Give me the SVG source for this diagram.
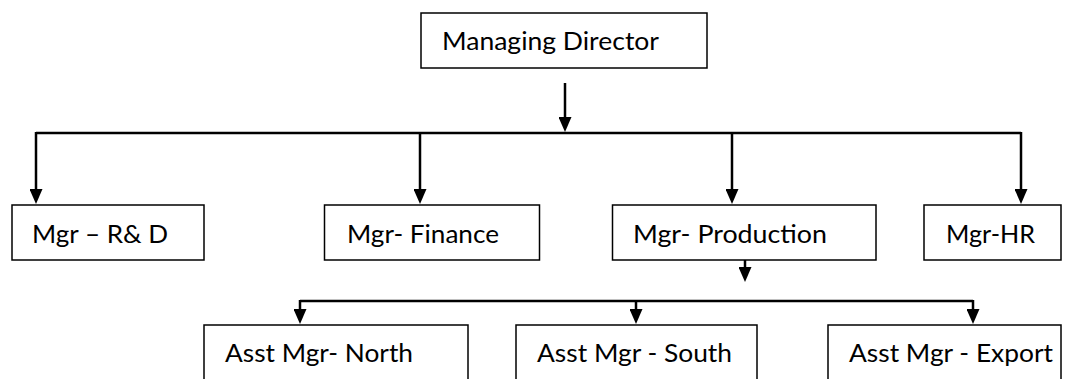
<svg xmlns="http://www.w3.org/2000/svg" width="1073" height="379" viewBox="0 0 1073 379">
  <style>
    .box { fill: #ffffff; stroke: #000000; stroke-width: 1.5; }
    .label { font-family: "Lato", "Liberation Sans", sans-serif; font-size: 25px; fill: #000000; }
    .wire { fill: none; stroke: #000000; stroke-width: 2.5; }
  </style>
  <defs>
    <!-- Solid triangular head; tip sits 10px past the line end -->
    <marker id="head" markerUnits="userSpaceOnUse" viewBox="0 0 15 13" refX="5" refY="6.5" markerWidth="15" markerHeight="13" orient="auto">
      <path d="M0,0 L15,6.5 L0,13 Z" fill="#000000"/>
    </marker>
  </defs>

  <g id="connectors">
    <!-- Managing Director down to the bus -->
    <line class="wire" x1="565" y1="83" x2="565" y2="122" marker-end="url(#head)"/>
    <!-- Top bus -->
    <path class="wire" d="M36,133 H1021"/>
    <line class="wire" x1="36" y1="132" x2="36" y2="194" marker-end="url(#head)"/>
    <line class="wire" x1="420" y1="132" x2="420" y2="194" marker-end="url(#head)"/>
    <line class="wire" x1="732" y1="132" x2="732" y2="194" marker-end="url(#head)"/>
    <line class="wire" x1="1021" y1="132" x2="1021" y2="194" marker-end="url(#head)"/>
    <!-- Production down to the lower bus -->
    <line class="wire" x1="745" y1="259" x2="745" y2="272" marker-end="url(#head)"/>
    <!-- Lower bus -->
    <path class="wire" d="M300,301 H973"/>
    <line class="wire" x1="300" y1="300" x2="300" y2="314" marker-end="url(#head)"/>
    <line class="wire" x1="636" y1="300" x2="636" y2="314" marker-end="url(#head)"/>
    <line class="wire" x1="973" y1="300" x2="973" y2="314" marker-end="url(#head)"/>
  </g>

  <g id="managing-director">
    <rect class="box" x="421" y="13" width="286" height="55"/>
    <text class="label" x="442" y="50" textLength="217" lengthAdjust="spacingAndGlyphs">Managing Director</text>
  </g>

  <g id="mgr-rnd">
    <rect class="box" x="12" y="205" width="192" height="55"/>
    <text class="label" x="32" y="243" textLength="136" lengthAdjust="spacingAndGlyphs">Mgr – R&amp; D</text>
  </g>

  <g id="mgr-finance">
    <rect class="box" x="324.5" y="205" width="215" height="55"/>
    <text class="label" x="347" y="243" textLength="152" lengthAdjust="spacingAndGlyphs">Mgr- Finance</text>
  </g>

  <g id="mgr-production">
    <rect class="box" x="612.5" y="205" width="263.5" height="55"/>
    <text class="label" x="633" y="243" textLength="194" lengthAdjust="spacingAndGlyphs">Mgr- Production</text>
  </g>

  <g id="mgr-hr">
    <rect class="box" x="924" y="205" width="137" height="55"/>
    <text class="label" x="946" y="243" textLength="89" lengthAdjust="spacingAndGlyphs">Mgr-HR</text>
  </g>

  <g id="asst-mgr-north">
    <rect class="box" x="204" y="325" width="264" height="70"/>
    <text class="label" x="225" y="362" textLength="188" lengthAdjust="spacingAndGlyphs">Asst Mgr- North</text>
  </g>

  <g id="asst-mgr-south">
    <rect class="box" x="516" y="325" width="241" height="70"/>
    <text class="label" x="537" y="362" textLength="195" lengthAdjust="spacingAndGlyphs">Asst Mgr - South</text>
  </g>

  <g id="asst-mgr-export">
    <rect class="box" x="828" y="325" width="233" height="70"/>
    <text class="label" x="849" y="362" textLength="204" lengthAdjust="spacingAndGlyphs">Asst Mgr - Export</text>
  </g>
</svg>
